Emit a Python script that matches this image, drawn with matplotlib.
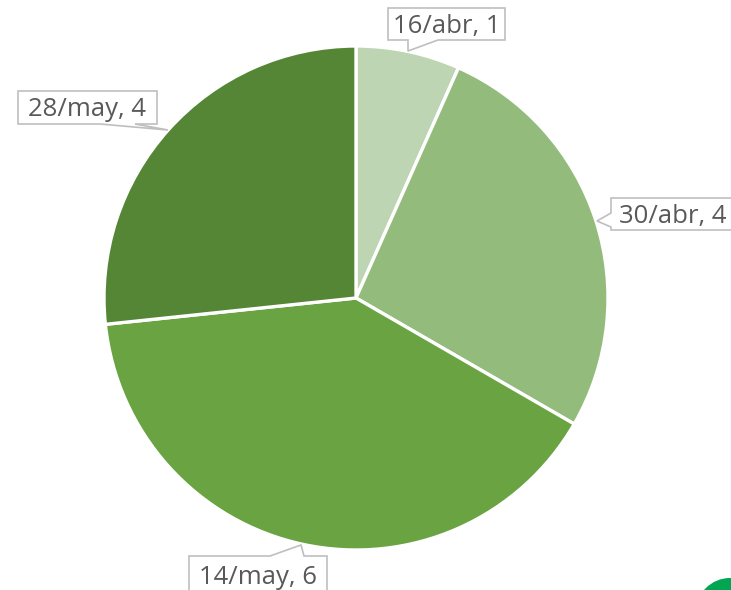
import matplotlib
matplotlib.use("Agg")
import matplotlib.pyplot as plt
from matplotlib.patches import Polygon, Circle

categories = ["16/abr", "30/abr", "14/may", "28/may"]
values = [1, 4, 6, 4]
colors = ["#bdd5b3", "#93bb7b", "#6aa342", "#548636"]

W, H = 731, 590
fig = plt.figure(figsize=(W / 100, H / 100), dpi=100)
ax = fig.add_axes([0, 0, 1, 1])

cx, cy, r = 356, 298, 252
# y axis is inverted below, so startangle=-90 + counterclock runs clockwise from 12 o'clock on screen
ax.pie(values, colors=colors, startangle=-90, counterclock=True,
       center=(cx, cy), radius=r, frame=True,
       wedgeprops=dict(edgecolor="white", linewidth=2.4))
ax.set_xlim(0, W)
ax.set_ylim(H, 0)
ax.set_aspect("equal")
ax.axis("off")

# callout outlines (box + tail), in category order
callouts = [
    [(388, 8), (505, 8), (505, 40), (438, 40), (408, 51), (408, 40), (388, 40)],
    [(611, 198), (740, 198), (740, 230), (611, 230), (611, 227), (597, 221), (611, 213)],
    [(189, 556), (270, 556), (301, 545), (304, 556), (327, 556), (327, 600), (189, 600)],
    [(18, 91), (157, 91), (157, 124), (135, 124), (168, 130), (100, 124), (18, 124)],
]
text_pos = [(447, 26, "center"), (619, 216, "left"), (258, 577, "center"), (87, 109, "center")]

for poly, (tx, ty, ha), cat, val in zip(callouts, text_pos, categories, values):
    ax.add_patch(Polygon(poly, closed=True, facecolor="white", edgecolor="#bfbfbf",
                         linewidth=1.2, zorder=5))
    ax.text(tx, ty, f"{cat}, {val}", ha=ha, va="center", fontsize=18.5,
            color="#595959", family="Open Sans", zorder=6)

ax.add_patch(Circle((730, 612), 34, facecolor="#00a651", edgecolor="none", zorder=4))

fig.savefig("out.png", dpi=100)
